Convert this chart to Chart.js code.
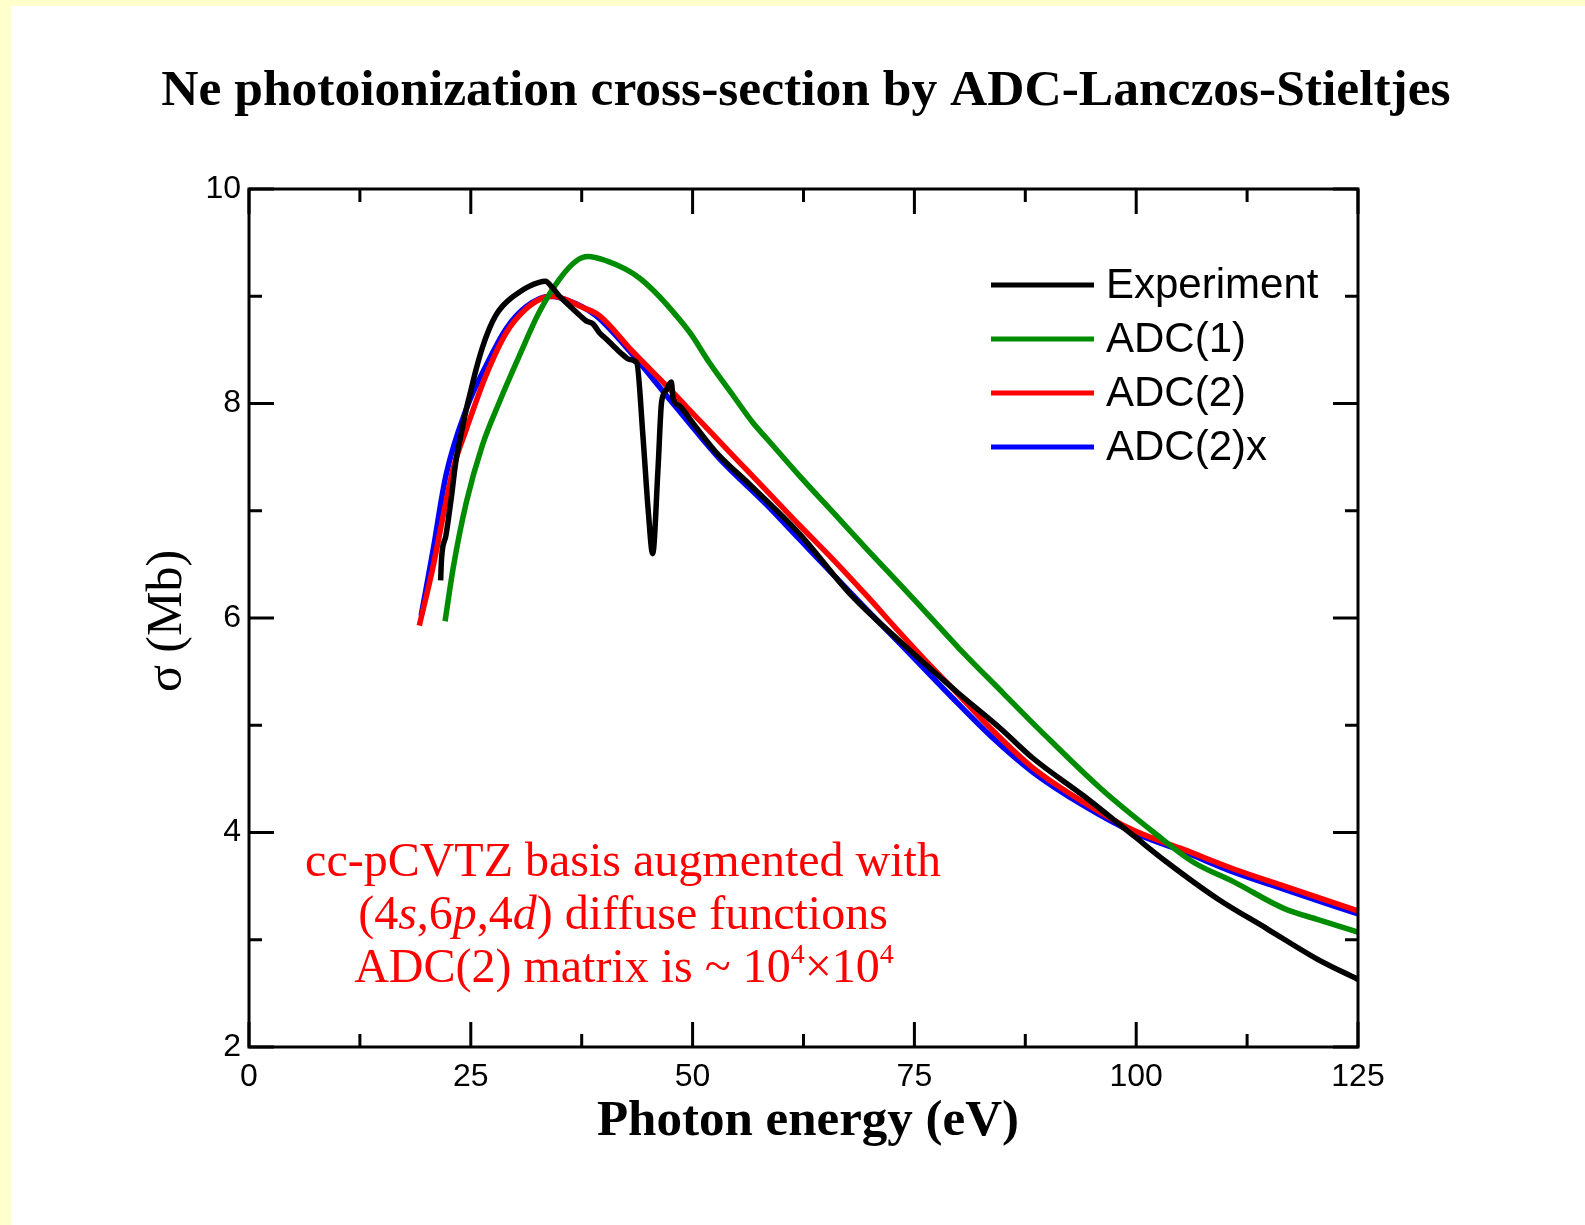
<!DOCTYPE html>
<html>
<head>
<meta charset="utf-8">
<style>
  html, body { margin: 0; padding: 0; background: #ffffcc; }
  canvas { display: block; }
</style>
</head>
<body>
<canvas id="ne_chart" width="1585" height="1225"></canvas>

<script src="https://cdn.jsdelivr.net/npm/chart.js"></script>
<script>

    // photon energy (eV) and cross-section (Mb)
    const expEnergy = [21.6, 21.7, 22.2, 22.8, 23.3, 24.0, 24.5, 25.0, 25.6, 26.3, 27.1, 27.8, 28.6, 29.5, 30.5, 31.5, 32.7, 33.4, 34.2, 35.0, 36.0, 37.3, 38.0, 38.8, 39.5, 40.3, 41.4, 42.2, 42.9, 43.7, 44.4, 45.0, 45.5, 46.1, 46.5, 47.0, 47.6, 47.8, 48.5, 50.0, 52.7, 56.5, 62.1, 67.8, 73.4, 79.8, 84.7, 88.4, 94.1, 99.7, 103.5, 109.2, 114.8, 120.4, 125.0];
    const expSigma  = [6.35, 6.55, 6.77, 7.12, 7.45, 7.75, 7.95, 8.12, 8.32, 8.52, 8.70, 8.82, 8.91, 8.98, 9.04, 9.09, 9.13, 9.14, 9.08, 9.00, 8.92, 8.82, 8.77, 8.74, 8.66, 8.60, 8.51, 8.45, 8.41, 8.38, 7.70, 7.00, 6.60, 7.39, 8.01, 8.12, 8.20, 8.05, 7.98, 7.82, 7.54, 7.24, 6.78, 6.22, 5.78, 5.31, 4.97, 4.69, 4.34, 3.97, 3.72, 3.38, 3.10, 2.82, 2.63];

    const adc1Energy = [22.1, 23.0, 24.5, 26.3, 28.2, 30.5, 32.7, 35.0, 36.9, 38.2, 40.3, 42.5, 44.0, 45.5, 47.0, 49.7, 51.9, 54.6, 56.8, 58.5, 62.0, 66.0, 70.0, 75.0, 80.0, 85.0, 89.2, 96.0, 102.0, 106.5, 111.0, 116.7, 120.4, 125.0];
    const adc1Sigma  = [5.97, 6.46, 7.08, 7.61, 8.01, 8.45, 8.85, 9.16, 9.33, 9.37, 9.33, 9.25, 9.17, 9.06, 8.93, 8.66, 8.38, 8.07, 7.82, 7.66, 7.33, 6.97, 6.61, 6.17, 5.72, 5.30, 4.95, 4.41, 4.00, 3.72, 3.54, 3.29, 3.19, 3.07];

    const adc2Energy = [19.2, 20.7, 22.0, 23.0, 24.5, 26.7, 29.0, 31.2, 33.0, 34.3, 35.7, 37.5, 39.5, 43.3, 47.0, 50.8, 54.6, 58.3, 62.1, 65.9, 69.6, 73.4, 77.1, 79.0, 83.6, 88.4, 94.1, 99.7, 105.4, 111.0, 116.7, 125.0];
    const adc2Sigma  = [5.93, 6.46, 7.00, 7.39, 7.76, 8.26, 8.66, 8.88, 8.98, 9.00, 8.97, 8.90, 8.82, 8.48, 8.17, 7.84, 7.51, 7.19, 6.86, 6.54, 6.21, 5.86, 5.53, 5.37, 4.97, 4.60, 4.28, 4.02, 3.84, 3.66, 3.50, 3.27];

    const adc2xEnergy = [19.4, 20.7, 22.2, 24.5, 26.7, 29.0, 31.2, 33.9, 35.7, 39.1, 43.3, 47.0, 50.8, 53.1, 58.3, 62.1, 65.9, 69.6, 73.4, 79.0, 83.6, 88.4, 94.1, 99.7, 105.4, 111.0, 116.7, 125.0];
    const adc2xSigma  = [6.02, 6.61, 7.33, 7.95, 8.35, 8.70, 8.90, 9.00, 8.97, 8.82, 8.45, 8.08, 7.70, 7.48, 7.06, 6.73, 6.40, 6.08, 5.76, 5.28, 4.90, 4.56, 4.25, 4.00, 3.82, 3.63, 3.47, 3.24];

    const seriesLabels = ['Experiment', 'ADC(1)', 'ADC(2)', 'ADC(2)x'];
    const seriesColors = ['#000000', '#008c00', '#ff0000', '#0000ff'];

    const xTicks = [0, 25, 50, 75, 100, 125];
    const yTicks = [2, 4, 6, 8, 10];

    const chartTitle = 'Ne photoionization cross-section by ADC-Lanczos-Stieltjes';
    const xTitle = 'Photon energy (eV)';
    const yTitle = 'σ (Mb)';

    const SERIF = '"Liberation Serif", "Times New Roman", serif';
    const SANS = '"Liberation Sans", Arial, sans-serif';

    function toPoints(xs, ys) {
        return xs.map((x, i) => ({ x: x, y: ys[i] }));
    }

    const allSeries = [
        toPoints(expEnergy, expSigma),
        toPoints(adc1Energy, adc1Sigma),
        toPoints(adc2Energy, adc2Sigma),
        toPoints(adc2xEnergy, adc2xSigma)
    ];

    // text runs: [text, font, raise]
    const noteLines = [
        [['cc-pCVTZ basis augmented with', '48px ' + SERIF, 0]],
        [['(4', '48px ' + SERIF, 0], ['s', 'italic 48px ' + SERIF, 0], [',6', '48px ' + SERIF, 0],
         ['p', 'italic 48px ' + SERIF, 0], [',4', '48px ' + SERIF, 0], ['d', 'italic 48px ' + SERIF, 0],
         [') diffuse functions', '48px ' + SERIF, 0]],
        [['ADC(2) matrix is ~ 10', '48px ' + SERIF, 0], ['4', '28px ' + SERIF, 19],
         ['×10', '48px ' + SERIF, 0], ['4', '28px ' + SERIF, 19]]
    ];

    function drawRuns(ctx, runs, cx, baseline) {
        let total = 0;
        runs.forEach(r => { ctx.font = r[1]; total += ctx.measureText(r[0]).width; });
        let x = cx - total / 2;
        runs.forEach(r => {
            ctx.font = r[1];
            ctx.fillText(r[0], x, baseline - r[2]);
            x += ctx.measureText(r[0]).width;
        });
    }

    const decor = {
        id: 'decor',
        beforeDraw(chart) {
            const ctx = chart.ctx;
            ctx.save();
            ctx.fillStyle = '#ffffcc';
            ctx.fillRect(0, 0, chart.width, chart.height);
            ctx.fillStyle = '#ffffff';
            ctx.fillRect(11, 6, chart.width - 11, chart.height - 6);
            ctx.restore();
        },
        afterDatasetsDraw(chart) {
            const ctx = chart.ctx;
            const a = chart.chartArea;
            const xs = chart.scales.x, ys = chart.scales.y;
            ctx.save();

            // frame and inward ticks on all four sides
            ctx.strokeStyle = '#000';
            ctx.lineWidth = 3;
            ctx.strokeRect(a.left, a.top, a.right - a.left, a.bottom - a.top);
            ctx.beginPath();
            for (let v = 0; v <= 125; v += 12.5) {
                const px = xs.getPixelForValue(v);
                const len = (v % 25 === 0) ? 25 : 13;
                ctx.moveTo(px, a.bottom); ctx.lineTo(px, a.bottom - len);
                ctx.moveTo(px, a.top); ctx.lineTo(px, a.top + len);
            }
            for (let v = 2; v <= 10; v += 1) {
                const py = ys.getPixelForValue(v);
                const len = (v % 2 === 0) ? 25 : 13;
                ctx.moveTo(a.left, py); ctx.lineTo(a.left + len, py);
                ctx.moveTo(a.right, py); ctx.lineTo(a.right - len, py);
            }
            ctx.stroke();

            // legend
            ctx.lineWidth = 5;
            ctx.font = '42px ' + SANS;
            ctx.textBaseline = 'middle';
            ctx.textAlign = 'left';
            chart.data.datasets.forEach((ds, i) => {
                const y = 285 + i * 54;
                ctx.strokeStyle = ds.borderColor;
                ctx.beginPath();
                ctx.moveTo(991, y); ctx.lineTo(1094, y);
                ctx.stroke();
                ctx.fillStyle = '#000';
                ctx.fillText(ds.label, 1106, y + 1);
            });

            // titles
            ctx.fillStyle = '#000';
            ctx.textBaseline = 'alphabetic';
            ctx.textAlign = 'center';
            ctx.font = 'bold 51.5px ' + SERIF;
            ctx.fillText(chartTitle, 806, 105);
            ctx.font = 'bold 51px ' + SERIF;
            ctx.fillText(xTitle, 808, 1135);
            ctx.save();
            ctx.translate(168, 621);
            ctx.rotate(-Math.PI / 2);
            ctx.font = '50px ' + SERIF;
            ctx.textBaseline = 'middle';
            ctx.fillText(yTitle, 0, 0);
            ctx.restore();

            // red note
            ctx.fillStyle = '#ff0000';
            ctx.textAlign = 'left';
            drawRuns(ctx, noteLines[0], 623, 876);
            drawRuns(ctx, noteLines[1], 623, 929);
            drawRuns(ctx, noteLines[2], 624, 982);

            ctx.restore();
        }
    };

    const ne_chart = new Chart(document.getElementById('ne_chart'), {
        type: 'line',
        data: {
            datasets: allSeries.map((pts, i) => ({
                label: seriesLabels[i],
                data: pts,
                borderColor: seriesColors[i],
                backgroundColor: seriesColors[i],
                borderWidth: 5.5,
                pointRadius: 0,
                cubicInterpolationMode: 'monotone',
                fill: false
            }))
        },
        options: {
            responsive: false,
            animation: false,
            devicePixelRatio: 1,
            layout: {
                padding: { left: 169, right: 227, top: 189, bottom: 118 }
            },
            plugins: {
                legend: { display: false },
                title: { display: false },
                tooltip: { enabled: false }
            },
            scales: {
                x: {
                    type: 'linear',
                    min: 0,
                    max: 125,
                    afterFit: s => { s.height = 60; },
                    afterBuildTicks: s => { s.ticks = xTicks.map(v => ({ value: v })); },
                    grid: { display: false, drawTicks: false },
                    border: { display: false },
                    ticks: {
                        padding: 11,
                        maxRotation: 0,
                        color: '#000',
                        font: { family: SANS, size: 32 }
                    }
                },
                y: {
                    type: 'linear',
                    min: 2,
                    max: 10,
                    afterFit: s => { s.width = 80; },
                    afterBuildTicks: s => { s.ticks = yTicks.map(v => ({ value: v })); },
                    grid: { display: false, drawTicks: false },
                    border: { display: false },
                    ticks: {
                        padding: 8,
                        color: '#000',
                        font: { family: SANS, size: 32 }
                    }
                }
            }
        },
        plugins: [decor]
    });
</script>
</body>
</html>
